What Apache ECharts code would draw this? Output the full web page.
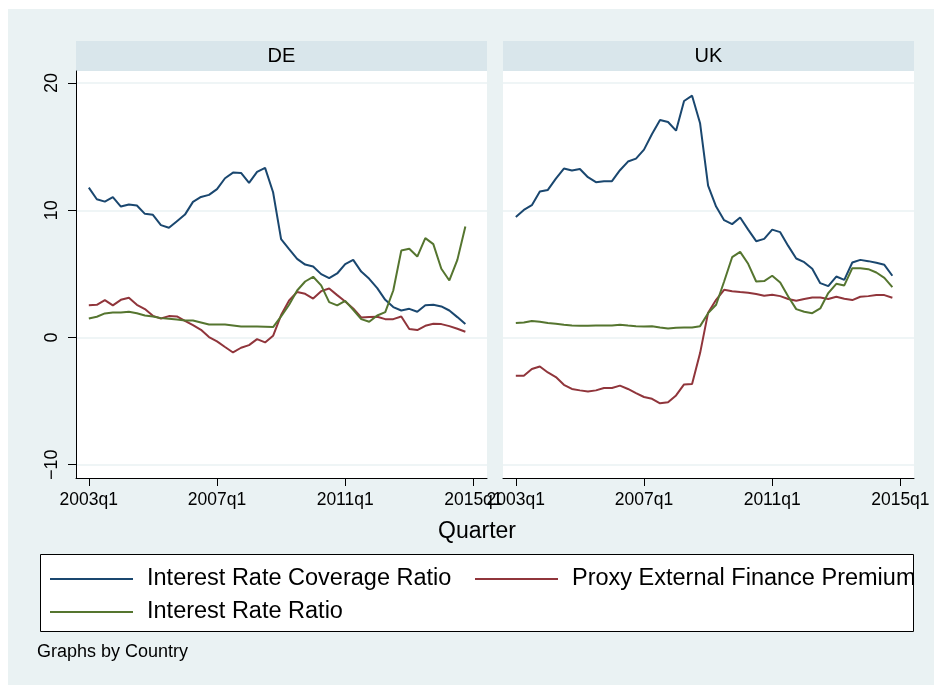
<!DOCTYPE html>
<html lang="en">
<head>
<meta charset="UTF-8">
<title>Graphs by Country</title>
<script src="https://cdn.jsdelivr.net/npm/echarts@6/dist/echarts.min.js"></script>
<style>
    body { margin: 0; background: #fff; }
    #main { width: 934px; height: 685px; }
</style>
</head>
<body>
<div id="main"></div>
<script>
// ticks and labels
var quarterTicks = [0, 16, 32, 48];
var quarterLabels = ['2003q1', '2007q1', '2011q1', '2015q1'];
var valueTicks = [-10, 0, 10, 20];
var countries = ['DE', 'UK'];
var seriesNames = ['Interest Rate Coverage Ratio', 'Proxy External Finance Premium', 'Interest Rate Ratio'];
var seriesColors = ['#1a476f', '#90353b', '#55752f'];

// quarterly values, 2003q1 .. 2014q4
var deCoverage = [11.78, 10.87, 10.68, 11.03, 10.29, 10.45, 10.37, 9.72, 9.64, 8.83,
    8.62, 9.14, 9.66, 10.66, 11.05, 11.21, 11.66, 12.52, 12.96, 12.94,
    12.15, 13.02, 13.33, 11.42, 7.73, 6.94, 6.18, 5.73, 5.58, 4.98,
    4.66, 5.03, 5.77, 6.10, 5.18, 4.61, 3.88, 2.96, 2.39, 2.12,
    2.25, 2.02, 2.54, 2.57, 2.44, 2.12, 1.60, 1.05];
var dePremium = [2.54, 2.57, 2.94, 2.52, 2.96, 3.12, 2.57, 2.23, 1.70, 1.49,
    1.68, 1.65, 1.31, 0.97, 0.60, 0.03, -0.31, -0.75, -1.18, -0.81,
    -0.60, -0.13, -0.39, 0.13, 1.76, 2.91, 3.57, 3.43, 3.06, 3.64,
    3.85, 3.33, 2.83, 2.28, 1.57, 1.60, 1.63, 1.44, 1.44, 1.65,
    0.66, 0.58, 0.92, 1.08, 1.05, 0.89, 0.68, 0.45];
var deRatio = [1.49, 1.63, 1.89, 1.96, 1.96, 2.02, 1.91, 1.73, 1.65, 1.52,
    1.47, 1.41, 1.34, 1.34, 1.18, 1.02, 1.02, 1.02, 0.94, 0.86,
    0.86, 0.86, 0.84, 0.82, 1.65, 2.57, 3.69, 4.40, 4.77, 4.09,
    2.78, 2.52, 2.88, 2.18, 1.44, 1.23, 1.73, 1.99, 3.69, 6.83,
    6.97, 6.36, 7.81, 7.34, 5.40, 4.48, 6.10, 8.72];

var ukCoverage = [9.48, 10.03, 10.40, 11.47, 11.60, 12.49, 13.28, 13.12, 13.25, 12.60,
    12.21, 12.29, 12.29, 13.15, 13.83, 14.06, 14.77, 16.00, 17.10, 16.94,
    16.26, 18.59, 19.01, 16.84, 11.94, 10.29, 9.22, 8.91, 9.43, 8.48,
    7.57, 7.75, 8.48, 8.28, 7.20, 6.21, 5.92, 5.40, 4.27, 4.04,
    4.79, 4.53, 5.89, 6.10, 6.00, 5.87, 5.71, 4.85];
var ukPremium = [-3.01, -3.01, -2.48, -2.28, -2.75, -3.11, -3.72, -4.05, -4.16, -4.24,
    -4.16, -3.98, -3.98, -3.79, -4.05, -4.37, -4.68, -4.82, -5.18, -5.10,
    -4.56, -3.69, -3.66, -1.23, 1.95, 2.96, 3.75, 3.64, 3.57, 3.51,
    3.41, 3.28, 3.35, 3.25, 3.02, 2.88, 3.02, 3.14, 3.14, 3.02,
    3.20, 3.04, 2.94, 3.20, 3.25, 3.33, 3.33, 3.12];
var ukRatio = [1.13, 1.18, 1.29, 1.23, 1.13, 1.08, 1.00, 0.94, 0.92, 0.92,
    0.94, 0.94, 0.94, 1.00, 0.94, 0.89, 0.86, 0.89, 0.79, 0.71,
    0.76, 0.79, 0.79, 0.89, 1.91, 2.57, 4.40, 6.31, 6.73, 5.79,
    4.40, 4.43, 4.85, 4.32, 3.22, 2.23, 2.02, 1.91, 2.28, 3.49,
    4.22, 4.09, 5.45, 5.45, 5.37, 5.11, 4.69, 3.96];

var panelData = [
    [deCoverage, dePremium, deRatio],
    [ukCoverage, ukPremium, ukRatio]
];

function toPairs(values) {
    var out = [];
    for (var i = 0; i < values.length; i++) {
        out.push([i, values[i]]);
    }
    return out;
}

var font = 'Liberation Sans, Arial, sans-serif';
var panelLeft = [76, 503];
var panelWidth = 411;

var grids = [], xAxes = [], yAxes = [], series = [];
for (var p = 0; p < 2; p++) {
    grids.push({
        left: panelLeft[p], top: 71, width: panelWidth, height: 407,
        show: true, backgroundColor: '#fff', borderWidth: 0
    });
    xAxes.push({
        gridIndex: p, type: 'value', min: -1.6, max: 49.7,
        axisLine: { show: true, onZero: false, lineStyle: { color: '#000', width: 1 } },
        axisTick: { show: true, length: 8, customValues: quarterTicks, lineStyle: { color: '#000' } },
        axisLabel: {
            customValues: quarterTicks, color: '#000', fontSize: 17.5, fontFamily: font, margin: 13,
            formatter: function (v) { return quarterLabels[quarterTicks.indexOf(v)]; }
        },
        splitLine: { show: false }
    });
    yAxes.push({
        gridIndex: p, type: 'value', min: -11.05, max: 20.95,
        axisLine: { show: p === 0, onZero: false, lineStyle: { color: '#000', width: 1 } },
        axisTick: { show: p === 0, length: 8, customValues: valueTicks, lineStyle: { color: '#000' } },
        axisLabel: {
            show: p === 0, customValues: valueTicks, rotate: 90, color: '#000', fontSize: 18,
            fontFamily: font, margin: 15,
            formatter: function (v) { return String(v).replace('-', '\u2212'); }
        },
        splitLine: { show: true, lineStyle: { color: '#eaf2f3', width: 1.5 } }
    });
    for (var s = 0; s < 3; s++) {
        series.push({
            name: seriesNames[s],
            type: 'line',
            xAxisIndex: p,
            yAxisIndex: p,
            data: toPairs(panelData[p][s]),
            symbol: 'none',
            color: seriesColors[s],
            lineStyle: { width: 2, color: seriesColors[s] }
        });
    }
}

var legendText = { fontSize: 23.5, fontFamily: font, color: '#000', lineHeight: 24, padding: [0, 0, 0, 9] };

var chart = echarts.init(document.getElementById('main'));
chart.setOption({
    animation: false,
    backgroundColor: '#fff',
    textStyle: { fontFamily: font },
    grid: grids,
    xAxis: xAxes,
    yAxis: yAxes,
    legend: [
        {
            data: [seriesNames[0], seriesNames[2]], orient: 'vertical', left: 45, top: 562,
            icon: 'rect', itemWidth: 83, itemHeight: 2, itemGap: 9, z: 10, textStyle: legendText
        },
        {
            data: [seriesNames[1]], orient: 'vertical', left: 470, top: 562,
            icon: 'rect', itemWidth: 83, itemHeight: 2, itemGap: 9, z: 10, textStyle: legendText
        }
    ],
    graphic: [
        { type: 'rect', z2: -100, silent: true, shape: { x: 8, y: 9, width: 926, height: 676 }, style: { fill: '#eaf2f3' } },
        { type: 'rect', silent: true, shape: { x: 76, y: 41, width: 411, height: 30 }, style: { fill: '#d9e6eb' } },
        { type: 'rect', silent: true, shape: { x: 503, y: 41, width: 411, height: 30 }, style: { fill: '#d9e6eb' } },
        { type: 'text', silent: true, style: { text: countries[0], x: 281.5, y: 56, align: 'center', verticalAlign: 'middle', fontSize: 20, fontFamily: font, fill: '#000' } },
        { type: 'text', silent: true, style: { text: countries[1], x: 708.5, y: 56, align: 'center', verticalAlign: 'middle', fontSize: 20, fontFamily: font, fill: '#000' } },
        { type: 'text', silent: true, style: { text: 'Quarter', x: 477, y: 532, align: 'center', verticalAlign: 'middle', fontSize: 23, fontFamily: font, fill: '#000' } },
        { type: 'rect', silent: true, shape: { x: 40.5, y: 554.5, width: 873, height: 77 }, style: { fill: '#fff', stroke: '#000', lineWidth: 1 } },
        { type: 'text', silent: true, style: { text: 'Graphs by Country', x: 37, y: 652, verticalAlign: 'middle', fontSize: 18, fontFamily: font, fill: '#000' } }
    ],
    series: series
});
</script>
</body>
</html>
